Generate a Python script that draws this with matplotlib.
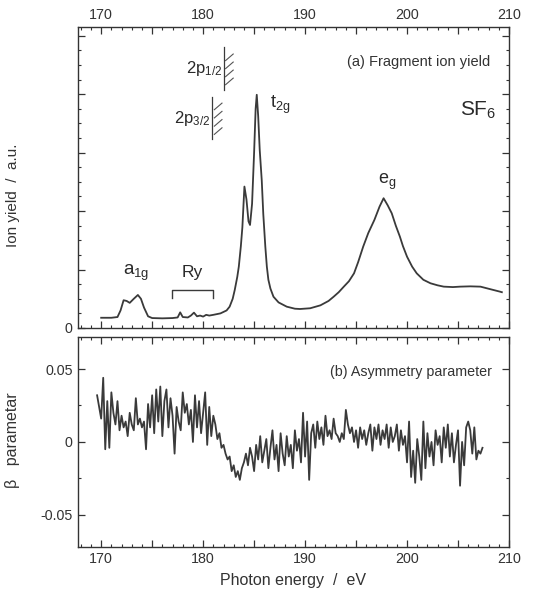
import numpy as np
import matplotlib.pyplot as plt
from matplotlib.ticker import MultipleLocator, FuncFormatter

plt.rcParams['font.family'] = ['Liberation Sans', 'DejaVu Sans']
plt.rcParams['mathtext.fontset'] = 'custom'
plt.rcParams['mathtext.rm'] = 'Liberation Sans'
plt.rcParams['mathtext.it'] = 'Liberation Sans:italic'

# (a) fragment ion yield, arbitrary units
yield_energy = [170.0, 171.0, 171.6, 171.9, 172.2, 172.5, 172.8, 173.2, 173.6, 173.9,
                174.2, 174.6, 175.0, 176.0, 177.0, 177.5, 177.75, 178.0, 178.5, 178.8,
                179.1, 179.4, 179.7, 180.0, 180.3, 180.6, 181.0, 181.7, 182.3, 182.6,
                182.9, 183.1, 183.35, 183.5, 183.7, 183.85, 184.05, 184.25, 184.45, 184.6,
                184.8, 185.0, 185.15, 185.26, 185.4, 185.55, 185.75, 185.9, 186.1, 186.25,
                186.4, 186.6, 186.9, 187.4, 188.2, 189.0, 189.5, 190.5, 191.5, 192.3,
                192.8, 193.3, 193.8, 194.3, 194.8, 195.2, 195.7, 196.2, 196.8, 197.3,
                197.7, 198.1, 198.5, 198.9, 199.3, 199.6, 200.0, 200.5, 200.95, 201.6,
                202.3, 203.0, 203.6, 204.5, 205.2, 206.2, 207.2, 208.2, 209.1, 209.3]
ion_yield = [0.70, 0.70, 0.75, 1.20, 1.90, 1.85, 1.72, 2.00, 2.26, 2.00,
             1.40, 0.80, 0.68, 0.66, 0.68, 0.72, 1.07, 0.75, 0.72, 0.85,
             1.05, 0.80, 0.85, 0.78, 0.90, 0.85, 0.90, 1.00, 1.20, 1.46,
             2.00, 2.60, 3.50, 4.20, 5.60, 6.90, 9.68, 8.80, 7.30, 7.05,
             8.50, 12.0, 15.0, 15.96, 14.5, 12.2, 10.1, 7.80, 5.57, 4.20,
             3.30, 2.70, 2.14, 1.75, 1.46, 1.32, 1.30, 1.35, 1.55, 1.85,
             2.14, 2.45, 2.83, 3.20, 3.74, 4.50, 5.57, 6.50, 7.40, 8.30,
             8.88, 8.40, 7.85, 7.00, 6.25, 5.60, 4.88, 4.20, 3.74, 3.30,
             3.06, 2.92, 2.83, 2.80, 2.83, 2.85, 2.83, 2.65, 2.49, 2.45]

# (b) asymmetry parameter beta, scan from 169.6 eV in 0.2 eV steps (values x 1e-3)
beta_start, beta_step = 169.6, 0.2
beta_milli = [32, 24, 16, 44, -5, 28, -4, 34, 20, 12,
              28, 8, 18, 10, 14, 4, 20, 12, 8, 30,
              12, 16, 10, 14, -5, 26, 10, 32, 6, 36,
              14, 38, 4, 28, 36, 10, 30, 18, -8, 24,
              14, 8, 34, 20, 26, 12, 22, 0, 32, 10,
              28, 6, 20, 34, -2, 24, 4, 18, 12, 2,
              6, -4, -2, -8, -12, -10, -20, -16, -24, -20,
              -26, -18, -14, -8, -16, -4, -10, -20, -2, -12,
              4, -14, -6, 2, -18, -4, 8, -12, -2, -20,
              6, -8, -16, 4, -10, -2, -18, 8, -6, 2,
              -14, 20, -10, 14, -26, 6, 12, -4, 14, 2,
              10, -2, 18, 4, 8, 2, 16, 6, 4, 0,
              6, 2, 22, 12, 6, 10, 0, 8, -4, 10,
              2, 8, -2, 6, 12, -6, 10, 2, 12, -2,
              8, 2, 12, -4, 10, 0, 4, 12, -6, 8,
              -2, 4, -14, 14, -24, -6, -28, 2, -10, -26,
              14, -18, 6, -10, 0, -16, 8, -2, 4, -14,
              10, -4, 12, -10, 6, -14, -2, 8, -30, 0,
              -16, 10, 14, 8, -8, 10, -12, -6, -8, -4]
beta = np.array(beta_milli) / 1000.0
beta_energy = beta_start + beta_step * np.arange(len(beta))

# S 2p ionisation thresholds: (energy, label, y range of marker)
thresholds = [(182.0, r'2p$_{\mathregular{1/2}}$', 16.3, 19.2),
              (180.9, r'2p$_{\mathregular{3/2}}$', 12.9, 15.84)]

line_color = '#3a3a3a'
text_color = '#2a2a2a'
xlim = (167.7, 210)

fig = plt.figure(figsize=(5.42, 5.97), dpi=100)
ax1 = fig.add_axes([0.1434, 0.4506, 0.7957, 0.5042])
ax2 = fig.add_axes([0.1434, 0.0838, 0.7957, 0.3518])


def style_axis(ax):
    ax.set_xlim(*xlim)
    ax.xaxis.set_major_locator(MultipleLocator(5))
    ax.xaxis.set_minor_locator(MultipleLocator(1))
    ax.tick_params(which='both', direction='in', top=True, right=True,
                   color='#333333', labelsize=10.3, labelcolor='#333333')
    ax.tick_params(which='major', length=5, width=0.9)
    ax.tick_params(which='minor', length=2.5, width=0.8)
    for s in ax.spines.values():
        s.set_color('#333333')
        s.set_linewidth(1.0)


tens_only = FuncFormatter(lambda v, p: f'{v:.0f}' if abs(v % 10) < 1e-6 else '')

# top panel
ax1.plot(yield_energy, ion_yield, color=line_color, lw=1.3)
style_axis(ax1)
ax1.set_ylim(0, 20.6)
ax1.yaxis.set_major_locator(MultipleLocator(4))
ax1.yaxis.set_minor_locator(MultipleLocator(1))
ax1.yaxis.set_major_formatter(FuncFormatter(lambda v, p: '0' if v == 0 else ''))
ax1.xaxis.set_major_formatter(tens_only)
ax1.tick_params(axis='x', labeltop=True, labelbottom=False)
ax1.set_ylabel('Ion yield  /  a.u.', fontsize=11, color='#333333')
ax1.yaxis.set_label_coords(-0.135, 0.44)

ax1.text(0.956, 0.884, '(a) Fragment ion yield', transform=ax1.transAxes,
         ha='right', va='center', fontsize=10.5, color='#333333')
ax1.text(207.0, 14.9, r'SF$_{\mathregular{6}}$', ha='center', va='center',
         fontsize=15, color=text_color)
ax1.text(186.6, 15.3, r't$_{\mathregular{2g}}$', ha='left', va='center',
         fontsize=13, color=text_color)
ax1.text(198.1, 10.0, r'e$_{\mathregular{g}}$', ha='center', va='center',
         fontsize=13, color=text_color)
ax1.text(173.4, 3.8, r'a$_{\mathregular{1g}}$', ha='center', va='center',
         fontsize=13.5, color=text_color)

# Rydberg bracket
ax1.plot([176.93, 176.93, 181.0, 181.0], [2.05, 2.6, 2.6, 2.05], color=line_color, lw=1.0)
ax1.text(178.9, 3.77, 'Ry', ha='center', va='center', fontsize=12.5, color=text_color)

# threshold markers with hatching
for e, label, y0, y1 in thresholds:
    ax1.plot([e, e], [y0, y1], color=line_color, lw=0.9)
    for yy in np.linspace(y0 + 0.35, y1 - 0.9, 4):
        ax1.plot([e + 0.2, e + 0.95], [yy, yy + 0.45], color='#555555', lw=0.8)
    ax1.text(e - 0.15, (y0 + y1) / 2, label, ha='right', va='center',
             fontsize=12, color=text_color)

# bottom panel
ax2.plot(beta_energy, beta, color=line_color, lw=1.3)
style_axis(ax2)
ax2.set_ylim(-0.072, 0.072)
ax2.yaxis.set_major_locator(MultipleLocator(0.05))
ax2.yaxis.set_minor_locator(MultipleLocator(0.025))
ax2.yaxis.set_major_formatter(FuncFormatter(
    lambda v, p: '0' if abs(v) < 1e-9 else f'{v:.2f}'.replace('\u2212', '-')))
ax2.xaxis.set_major_formatter(tens_only)
ax2.set_ylabel('\u03b2   parametar', fontsize=11.5, color='#333333')
ax2.yaxis.set_label_coords(-0.135, 0.51)
ax2.set_xlabel('Photon energy  /  eV', fontsize=11.5, color='#333333', labelpad=5)
ax2.text(0.961, 0.833, '(b) Asymmetry parameter', transform=ax2.transAxes,
         ha='right', va='center', fontsize=10.3, color='#333333')

fig.savefig('out.png', dpi=100)
